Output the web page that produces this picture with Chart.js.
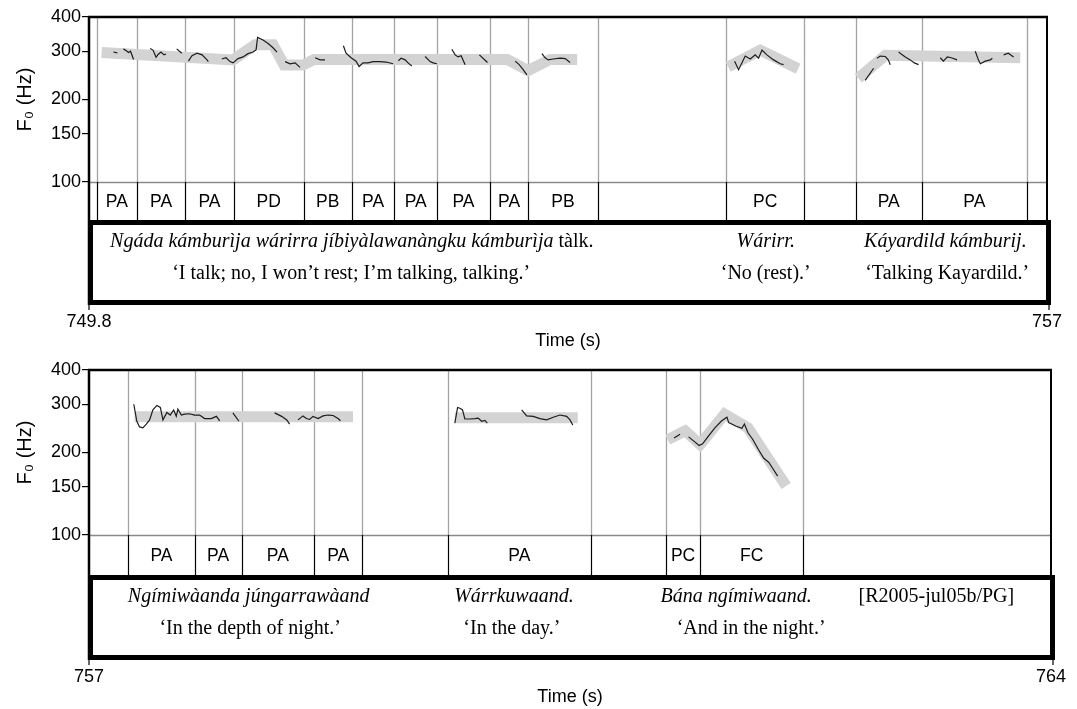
<!DOCTYPE html>
<html>
<head>
<meta charset="utf-8">
<script src="https://cdn.jsdelivr.net/npm/chart.js@4"></script>
<style>
html, body { margin: 0; padding: 0; background: #fff; }
.panel { position: absolute; left: 0; width: 1077px; }
</style>
</head>
<body>
<div class="panel" style="top:0;height:353px"><canvas id="topChart" width="1077" height="353"></canvas></div>
<div class="panel" style="top:353px;height:356px"><canvas id="bottomChart" width="1077" height="356"></canvas></div>
<script>
// F0 axis ticks (Hz)
const hzTicks = [100, 150, 200, 300, 400];

// ---- upper panel, 749.8 - 757 s ----
const topRange = [749.8, 757];
const topBounds = [749.858, 750.161, 750.522, 750.888, 751.414, 751.775, 752.095, 752.416, 752.813, 753.101, 753.622, 754.591, 755.173, 755.564, 756.057, 756.850];
const topTones = ['', 'PA', 'PA', 'PA', 'PD', 'PB', 'PA', 'PA', 'PA', 'PA', 'PB', '', 'PC', '', 'PA', 'PA', ''];

// stylised contour (grey), null = break
const topStylT = [749.895, 750.883, 751.048, 751.183, 751.266, 751.409, 751.492, 752.943, 753.100, 753.266, 753.469, null, 754.604, 754.845, 755.130, null, 755.582, 755.785, 756.799];
const topStylHz = [297, 279, 317, 317, 267, 267, 280, 280, 255, 280, 280, null, 263, 303, 259, null, 239, 290, 284];

// measured F0 (black), null = break
const topF0T = [
  749.983, 750.013, null,
  750.059, 750.078, 750.097, 750.112, 750.135, null,
  750.259, 750.281, 750.304, 750.319, 750.341, 750.364, 750.379, null,
  750.459, 750.497, null,
  750.547, 750.574, 750.612, 750.650, 750.687, 750.697, null,
  750.798, 750.830, 750.860, 750.883, 750.920, 750.958, 750.995, 751.033, 751.056, 751.067, 751.108, 751.146, 751.183, 751.213, null,
  751.274, 751.311, 751.349, 751.386, null,
  751.499, 751.537, 751.574, null,
  751.712, 751.732, 751.770, 751.807, 751.830, 751.860, 751.898, 751.935, 751.988, 752.033, 752.086, null,
  752.125, 752.146, 752.176, 752.198, 752.226, null,
  752.326, 752.364, 752.386, 752.414, null,
  752.527, 752.552, 752.574, 752.597, 752.627, null,
  752.734, 752.795, null,
  753.003, 753.033, 753.063, 753.091, null,
  753.204, 753.228, 753.251, 753.289, 753.341, 753.379, 753.416, null,
  754.652, 754.682, 754.732, 754.770, 754.807, 754.832, 754.858, 754.895, 754.945, 754.995, 755.020, null,
  755.634, 755.697, null,
  755.722, 755.747, 755.785, 755.807, 755.822, null,
  755.885, 755.912, 755.935, 755.972, 756.003, 756.035, null,
  756.198, 756.221, 756.251, 756.281, 756.324, null,
  756.461, 756.484, 756.499, 756.536, 756.574, 756.589, null,
  756.674, 756.709, 756.749
];
const topF0Hz = [
  298, 296, null,
  306, 302, 297, 300, 280, null,
  307, 303, 285, 292, 298, 291, 293, null,
  306, 295, null,
  276, 289, 295, 291, 279, 275, null,
  281, 284, 275, 272, 282, 286, 294, 298, 304, 337, 330, 320, 309, 298, null,
  275, 270, 272, 262, null,
  284, 279, 279, null,
  314, 295, 284, 276, 264, 272, 272, 275, 275, 274, 270, null,
  277, 283, 279, 272, 265, null,
  287, 275, 272, 270, null,
  305, 291, 286, 289, 268, null,
  291, 273, null,
  276, 268, 257, 246, null,
  294, 284, 279, 281, 283, 282, 273, null,
  276, 257, 288, 281, 291, 283, 303, 291, 279, 270, 268, null,
  235, 260, null,
  283, 288, 287, 279, 268, null,
  298, 291, 286, 279, 272, 268, null,
  284, 276, 286, 284, 279, null,
  300, 279, 270, 276, 279, 283, null,
  291, 295, 286
];

// text box: italic vernacular + upright tail, and glosses
const topVern = ['Ngáda kámburìja wárirra jíbiyàlawanàngku kámburìja', 'Wárirr.', 'Káyardild kámburij.'];
const topVernTail = [' tàlk.', '', ''];
const topVernAt = [751.775, 754.886, 756.236];
const topGloss = ['‘I talk; no, I won’t rest; I’m talking, talking.’', '‘No (rest).’', '‘Talking Kayardild.’'];
const topGlossAt = [751.770, 754.886, 756.250];

// ---- lower panel, 757 - 764 s ----
const botRange = [757, 764];
const botBounds = [757.286, 757.768, 758.111, 758.637, 758.990, 759.609, 760.653, 761.199, 761.447, 762.197];
const botTones = ['', 'PA', 'PA', 'PA', 'PA', '', 'PA', '', 'PC', 'FC', ''];

const botStylT = [757.331, 758.921, null, 759.662, 760.556, null, 761.211, 761.338, 761.447, 761.625, 761.795, 762.073];
const botStylHz = [270, 270, null, 268, 268, null, 223, 240, 214, 276, 246, 151];

const botF0T = [
  757.326, 757.348, 757.368, 757.392, 757.417, 757.441, 757.465, 757.494, 757.519, 757.538, 757.567, 757.591, 757.616, 757.635, 757.647, 757.672, 757.696, 757.732, 757.768, 757.805, 757.841, 757.890, 757.927, 757.951, null,
  758.047, 758.091, null,
  758.351, 758.402, 758.439, 758.460, null,
  758.521, 758.557, 758.582, 758.606, 758.630, 758.667, 758.703, 758.739, 758.776, 758.812, 758.830, null,
  759.662, 759.682, 759.699, 759.718, 759.735, 759.772, 759.808, 759.832, 759.857, 759.881, 759.898, null,
  760.148, 760.185, 760.233, 760.281, 760.330, 760.378, 760.427, 760.476, 760.500, 760.520, null,
  761.257, 761.301, null,
  761.363, 761.401, 761.440, 761.465, 761.503, 761.554, 761.604, 761.642, 761.655, 761.706, 761.751, 761.769, 761.795, 761.828, 761.871, 761.909, 761.947, 761.972, 762.011
];
const botF0Hz = [
  300, 260, 248, 246, 254, 263, 286, 297, 292, 263, 280, 274, 286, 271, 288, 274, 276, 277, 274, 274, 266, 266, 271, 261, null,
  279, 260, null,
  279, 271, 263, 254, null,
  263, 272, 266, 264, 271, 266, 272, 274, 273, 266, 261, null,
  256, 292, 290, 286, 265, 265, 266, 267, 260, 262, 256, null,
  286, 272, 271, 266, 263, 269, 274, 271, 263, 252, null,
  226, 233, null,
  228, 220, 212, 215, 228, 246, 261, 269, 257, 250, 245, 254, 236, 224, 205, 191, 184, 176, 164
];

const botVern = ['Ngímiwàanda júngarrawàand', 'Wárrkuwaand.', 'Bána ngímiwaand.', ''];
const botVernTail = ['', '', '', '[R2005-jul05b/PG]'];
const botVernAt = [758.162, 760.092, 761.709, 763.166];
const botGloss = ['‘In the depth of night.’', '‘In the day.’', '‘And in the night.’'];
const botGlossAt = [758.173, 760.077, 761.818];

const SANS = '"Liberation Sans", Arial, sans-serif';
const SERIF = '"Liberation Serif", "Times New Roman", serif';

function pts(ts, hz) {
  return ts.map((t, i) => ({ x: t === null ? ts[i - 1] : t, y: hz[i] }));
}

const framePlugin = {
  id: 'frame',
  beforeDatasetsDraw(chart, args, opts) {
    const { ctx, chartArea: a, scales: { x } } = chart;
    ctx.save();
    ctx.strokeStyle = '#a3a3a3';
    ctx.lineWidth = 1.3;
    opts.panel.bounds.forEach(t => {
      const px = Math.round(x.getPixelForValue(t)) + 0.5;
      ctx.beginPath(); ctx.moveTo(px, a.top); ctx.lineTo(px, a.bottom); ctx.stroke();
    });
    ctx.restore();
  },
  afterDraw(chart, args, opts) {
    const p = opts.panel;
    const { ctx, chartArea: a, scales: { x } } = chart;
    const boxTop = a.bottom + p.tierH, boxBot = boxTop + 85;
    ctx.save();
    // 100 Hz line / tier top
    ctx.strokeStyle = '#8a8a8a';
    ctx.lineWidth = 1.4;
    ctx.beginPath(); ctx.moveTo(a.left, a.bottom + 0.5); ctx.lineTo(a.right, a.bottom + 0.5); ctx.stroke();
    // tier boundaries
    ctx.strokeStyle = '#000';
    ctx.lineWidth = 1.2;
    p.bounds.forEach(t => {
      const px = Math.round(x.getPixelForValue(t)) + 0.5;
      ctx.beginPath(); ctx.moveTo(px, a.bottom); ctx.lineTo(px, boxTop); ctx.stroke();
    });
    // tier labels
    const edges = [p.range[0], ...p.bounds, p.range[1]];
    ctx.fillStyle = '#000';
    ctx.font = '17.5px ' + SANS;
    ctx.textAlign = 'center';
    ctx.textBaseline = 'middle';
    p.tones.forEach((lab, i) => {
      if (!lab) return;
      const cx = (x.getPixelForValue(edges[i]) + x.getPixelForValue(edges[i + 1])) / 2;
      ctx.fillText(lab, cx, a.bottom + p.tierH / 2 + 1);
    });
    // frame
    ctx.lineWidth = 2;
    ctx.beginPath(); ctx.moveTo(a.right, a.top); ctx.lineTo(a.right, boxTop); ctx.stroke();
    ctx.lineWidth = 2.5;
    ctx.beginPath(); ctx.moveTo(a.left - 1, a.top); ctx.lineTo(a.right + 1, a.top); ctx.stroke();
    ctx.beginPath(); ctx.moveTo(a.left, a.top - 1); ctx.lineTo(a.left, boxBot); ctx.stroke();
    // text box
    ctx.lineWidth = 5;
    ctx.strokeRect(a.left + 1.5, boxTop + 2.5, a.right - a.left, boxBot - boxTop - 5);
    // end ticks of the time axis
    ctx.lineWidth = 1.2;
    [a.left, a.right + 2].forEach(px => {
      ctx.beginPath(); ctx.moveTo(px, boxBot); ctx.lineTo(px, boxBot + 5); ctx.stroke();
    });
    // vernacular line (italic + upright tail) and gloss line
    ctx.textAlign = 'left';
    const it = 'italic 20px ' + SERIF, up = '20px ' + SERIF;
    p.vern.forEach((v, i) => {
      ctx.font = it; const w1 = ctx.measureText(v).width;
      ctx.font = up; const w2 = ctx.measureText(p.vernTail[i]).width;
      const x0 = x.getPixelForValue(p.vernAt[i]) - (w1 + w2) / 2;
      ctx.font = it; ctx.fillText(v, x0, boxTop + 22);
      ctx.font = up; ctx.fillText(p.vernTail[i], x0 + w1, boxTop + 22);
    });
    ctx.textAlign = 'center';
    ctx.font = up;
    p.gloss.forEach((g, i) => ctx.fillText(g, x.getPixelForValue(p.glossAt[i]), boxTop + 54));
    ctx.restore();
  }
};

function makeChart(id, panel) {
  const [min, max] = panel.range;
  const font = { family: SANS, size: 18 };
  return new Chart(document.getElementById(id), {
    type: 'line',
    data: {
      datasets: [
        { label: 'F0', data: pts(panel.f0T, panel.f0Hz), borderColor: '#1c1c1c', borderWidth: 1.2,
          pointRadius: 0, spanGaps: false, tension: 0, order: 0 },
        { label: 'stylised', data: pts(panel.stT, panel.stHz), borderColor: '#d3d3d3', borderWidth: 11,
          pointRadius: 0, spanGaps: false, tension: 0, borderCapStyle: 'butt', borderJoinStyle: 'miter', order: 1 }
      ]
    },
    options: {
      responsive: false,
      animation: false,
      events: [],
      layout: { padding: { left: 10, right: panel.padRight, top: 17, bottom: 0 } },
      plugins: { legend: { display: false }, tooltip: { enabled: false }, frame: { panel } },
      scales: {
        x: {
          type: 'linear', min, max,
          grid: { display: false, drawTicks: false },
          border: { display: false },
          afterBuildTicks: s => { s.ticks = [{ value: min }, { value: max }]; },
          ticks: { padding: panel.tickPad, font, color: '#000', maxRotation: 0, autoSkip: false, callback: v => String(v) },
          title: { display: true, text: 'Time (s)', font, color: '#000', padding: { top: 0, bottom: 1 } },
          afterFit: s => { s.height = panel.axisH; s.paddingLeft = 0; s.paddingRight = 0; }
        },
        y: {
          type: 'logarithmic', min: 100, max: 400,
          grid: { display: true, drawOnChartArea: false, drawTicks: true, tickLength: 7, color: '#000', lineWidth: 1.2 },
          border: { display: false },
          afterBuildTicks: s => { s.ticks = hzTicks.map(v => ({ value: v })); },
          ticks: { padding: 1, font, color: '#000', autoSkip: false, callback: v => String(v) },
          title: { display: true, text: 'F₀ (Hz)', font: { family: SANS, size: 20 }, color: '#000', padding: { top: 3, bottom: 0 } },
          afterFit: s => { s.width = 79; s.paddingTop = 0; s.paddingBottom = 0; }
        }
      }
    },
    plugins: [framePlugin]
  });
}

makeChart('topChart', {
  range: topRange, bounds: topBounds, tones: topTones,
  stT: topStylT, stHz: topStylHz, f0T: topF0T, f0Hz: topF0Hz,
  vern: topVern, vernTail: topVernTail, vernAt: topVernAt, gloss: topGloss, glossAt: topGlossAt,
  padRight: 30, tierH: 38, tickPad: 129, axisH: 171
});
makeChart('bottomChart', {
  range: botRange, bounds: botBounds, tones: botTones,
  stT: botStylT, stHz: botStylHz, f0T: botF0T, f0Hz: botF0Hz,
  vern: botVern, vernTail: botVernTail, vernAt: botVernAt, gloss: botGloss, glossAt: botGlossAt,
  padRight: 26, tierH: 40, tickPad: 131, axisH: 174
});
</script>
</body>
</html>
